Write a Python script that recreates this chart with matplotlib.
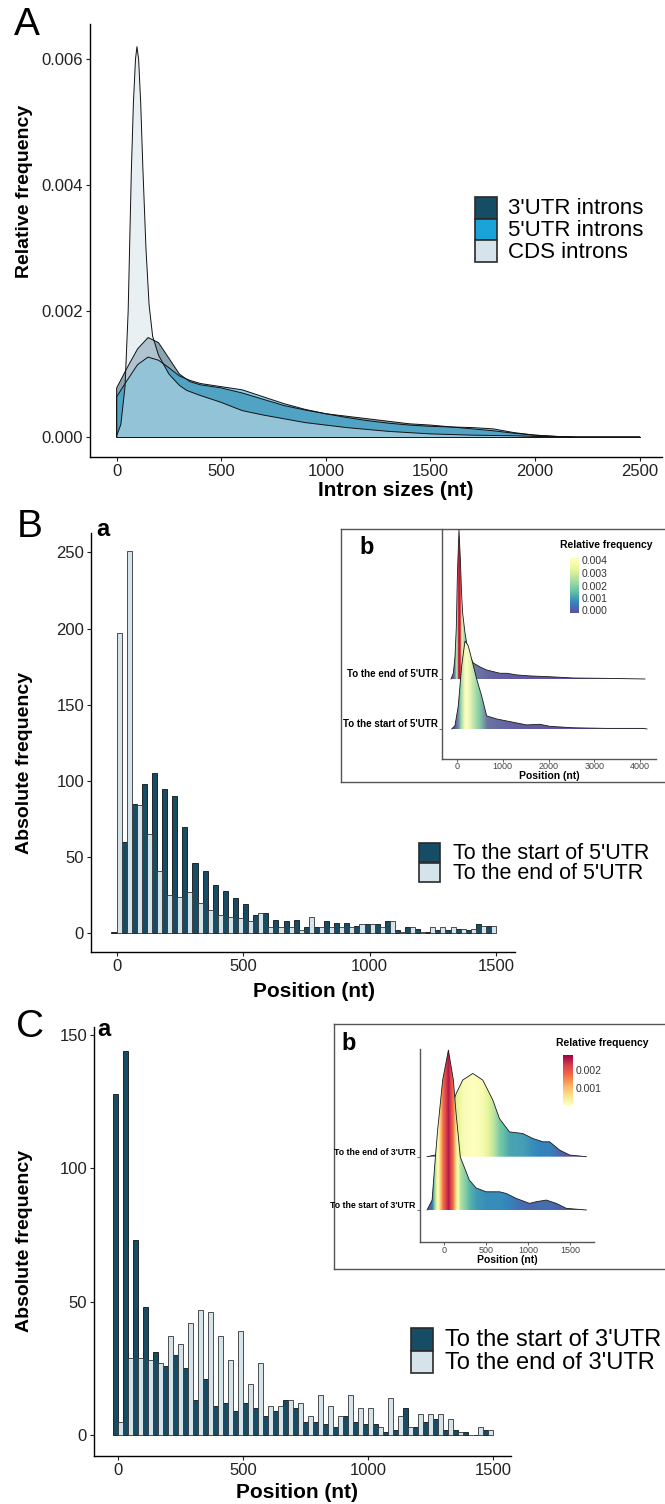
import numpy as np
import matplotlib.pyplot as plt
from matplotlib.patches import Polygon, Rectangle
from matplotlib.colors import Normalize, ListedColormap, LinearSegmentedColormap

W, H = 665, 1504

# ---------------- panel A: intron size densities ----------------
utr3_x = [0, 50, 100, 150, 200, 250, 300, 350, 400, 500, 600, 700, 800, 900, 1000, 1100,
          1200, 1300, 1400, 1500, 1600, 1700, 1800, 1900, 2000, 2100, 2200, 2500]
utr3_y = [0.00078, 0.0011, 0.0014, 0.00158, 0.0015, 0.00125, 0.001, 0.00088, 0.00083, 0.00078,
          0.0007, 0.0006, 0.0005, 0.00043, 0.00037, 0.00033, 0.00029, 0.00025, 0.00021, 0.00019,
          0.00016, 0.00013, 0.0001, 0.00006, 0.00003, 0.00001, 0.0, 0.0]
utr5_x = utr3_x
utr5_y = [0.00064, 0.0009, 0.00115, 0.00127, 0.00122, 0.0011, 0.00097, 0.0009, 0.00085, 0.0008,
          0.00075, 0.00064, 0.00053, 0.00044, 0.00037, 0.00031, 0.00026, 0.00022, 0.00019, 0.00017,
          0.00016, 0.00015, 0.00013, 0.00007, 0.00003, 0.00001, 0.0, 0.0]
cds_x = [0, 20, 40, 55, 70, 80, 90, 97, 105, 115, 125, 140, 155, 172, 200, 250, 300, 335, 400,
         500, 600, 700, 800, 900, 1000, 1100, 1200, 1300, 1400, 1500, 1700, 1900, 2000, 2200, 2500]
cds_y = [0.00002, 0.0002, 0.0008, 0.002, 0.0042, 0.0053, 0.006, 0.0062, 0.006, 0.0053, 0.0043,
         0.003, 0.0021, 0.0016, 0.0013, 0.001, 0.00082, 0.00074, 0.00066, 0.00055, 0.00042,
         0.00035, 0.00029, 0.00023, 0.00019, 0.00015, 0.00012, 0.00009, 0.00007, 0.00005,
         0.00003, 0.00002, 0.00001, 0.0, 0.0]

# ---------------- panel B / C: histograms (bins of 40 nt) ----------------
bin_pos = np.arange(0, 1520, 40)
b_start = [1, 60, 85, 98, 105, 95, 90, 70, 46, 41, 32, 28, 23, 19, 12, 13, 9, 8, 9, 4,
           4, 8, 7, 7, 5, 6, 6, 8, 2, 4, 3, 1, 2, 2, 3, 2, 6, 5]
b_end = [197, 251, 84, 65, 41, 25, 24, 27, 20, 15, 12, 11, 10, 8, 13, 4, 4, 4, 2, 11,
         4, 4, 4, 4, 6, 6, 4, 8, 1, 4, 1, 4, 4, 4, 3, 3, 5, 5]
c_start = [128, 144, 73, 48, 31, 26, 30, 25, 13, 21, 11, 12, 9, 12, 10, 7, 9, 13, 10, 5,
           5, 4, 3, 7, 5, 4, 4, 1, 2, 10, 3, 5, 6, 2, 2, 1, 0, 2]
c_end = [5, 29, 29, 28, 27, 37, 34, 42, 47, 46, 37, 28, 39, 19, 27, 11, 11, 13, 12, 7,
         15, 11, 7, 15, 10, 10, 3, 14, 7, 3, 8, 8, 8, 6, 1, 0, 3, 2]

# ---------------- insets: ridge densities ----------------
b_ridge_start_x = [-116, -44, 28, 102, 175, 247, 320, 430, 539, 648, 867, 1157, 1521, 1812,
                   2030, 2540, 3268, 4068, 4150]
b_ridge_start_y = [0, 1.6e-4, 11.2e-4, 30.8e-4, 43.0e-4, 40.6e-4, 34.2e-4, 24.4e-4, 16.1e-4,
                   6.4e-4, 4.9e-4, 3.6e-4, 2.0e-4, 2.3e-4, 1.3e-4, 0.6e-4, 0.3e-4, 0.3e-4, 0]
b_ridge_end_x = [-131, -80, -44, -15, 10, 44, 75, 100, 124, 175, 247, 357, 502, 648, 794, 939,
                 1085, 1303, 1594, 2030, 2540, 3268, 4105]
b_ridge_end_y = [0, 2.8e-4, 10.7e-4, 25.0e-4, 52.0e-4, 72.8e-4, 58.0e-4, 42.0e-4, 32.2e-4,
                 22.5e-4, 12.7e-4, 7.8e-4, 5.9e-4, 4.4e-4, 3.6e-4, 2.8e-4, 2.8e-4, 2.0e-4,
                 1.5e-4, 1.1e-4, 0.5e-4, 0.3e-4, 0]
c_ridge_start_x = [-206, -146, -107, -80, -20, 48, 107, 139, 190, 298, 378, 497, 656, 736,
                   855, 1014, 1093, 1213, 1332, 1451, 1690]
c_ridge_start_y = [0, 1.8e-4, 9.6e-4, 14.5e-4, 23.6e-4, 29.0e-4, 23.6e-4, 17.6e-4, 9.6e-4,
                   5.4e-4, 4.0e-4, 3.3e-4, 3.3e-4, 3.0e-4, 2.1e-4, 1.2e-4, 1.5e-4, 1.8e-4,
                   1.2e-4, 0.3e-4, 0]
c_ridge_end_x = [-206, -107, -67, -20, 40, 99, 139, 218, 338, 457, 576, 656, 775, 934, 1053,
                 1173, 1253, 1372, 1491, 1690]
c_ridge_end_y = [0, 0.3e-4, 0.6e-4, 1.2e-4, 5.4e-4, 9.6e-4, 11.4e-4, 13.9e-4, 15.1e-4,
                 13.9e-4, 10.3e-4, 6.9e-4, 4.5e-4, 4.2e-4, 3.3e-4, 2.7e-4, 2.7e-4, 1.2e-4,
                 0.3e-4, 0]

DARK = '#164c64'
BRIGHT = '#19a3d8'
LIGHT = '#d5e3eb'

plt.rcParams['font.family'] = ['Liberation Sans', 'DejaVu Sans']
fig = plt.figure(figsize=(W / 100, H / 100), dpi=100)


def add_ax(x0, y0, x1, y1, **kw):
    return fig.add_axes([x0 / W, 1 - y1 / H, (x1 - x0) / W, (y1 - y0) / H], **kw)


def ftext(x, y, s, **kw):
    kw.setdefault('zorder', 20)
    return fig.text(x / W, 1 - y / H, s, **kw)


def style_main(ax, size=12):
    for s in ['top', 'right']:
        ax.spines[s].set_visible(False)
    for s in ['left', 'bottom']:
        ax.spines[s].set_linewidth(1.0)
    ax.tick_params(length=3, width=0.8, labelsize=size, pad=2, colors='#222222')


def key_legend(x, y, labels, colors, row_h, key_w, size, gap=11):
    for i, (lab, c) in enumerate(zip(labels, colors)):
        top = y + i * row_h
        fig.add_artist(Rectangle((x / W, 1 - (top + row_h) / H), key_w / W, row_h / H,
                                 transform=fig.transFigure, facecolor=c,
                                 edgecolor='#2a2a2a', lw=1.2, zorder=20))
        ftext(x + key_w + gap, top + row_h / 2 + 1, lab, fontsize=size, va='center', ha='left')


def ridge(ax, x, d, base, scale, cmap, norm, z):
    x = np.asarray(x, float)
    d = np.asarray(d, float)
    top = base + d * scale
    verts = np.column_stack([np.r_[x, x[::-1]], np.r_[top, np.full(len(x), base)]])
    clip = Polygon(verts, closed=True, transform=ax.transData)
    xs = np.linspace(x[0], x[-1], 800)
    im = ax.imshow(np.interp(xs, x, d)[None, :], cmap=cmap, norm=norm,
                   extent=(x[0], x[-1], base, top.max()), aspect='auto', origin='lower',
                   interpolation='bilinear', zorder=z)
    im.set_clip_path(clip)
    ax.plot(x, top, color='#1a1a1a', lw=0.6, zorder=z + 0.1)


def gradient_bar(cax, cmap, lo, hi, ticks, labels):
    vals = np.linspace(lo, hi, 256)
    cax.imshow(vals[:, None], cmap=cmap, extent=(0, 1, lo, hi), origin='lower', aspect='auto')
    cax.set_xlim(0, 1)
    cax.set_ylim(lo, hi)
    cax.set_xticks([])
    cax.yaxis.tick_right()
    cax.set_yticks(ticks)
    cax.set_yticklabels(labels)
    cax.tick_params(axis='y', length=0, pad=2, labelsize=7.5, colors='#333333')
    for s in cax.spines.values():
        s.set_visible(False)


def inset(box, inner, xlim, ylim, xticks, labels, tsize):
    bx = add_ax(*box, zorder=5)
    bx.set_xticks([])
    bx.set_yticks([])
    for s in bx.spines.values():
        s.set_color('#555555')
        s.set_linewidth(1.0)
    ax = add_ax(*inner, zorder=6)
    ax.set_facecolor('none')
    for s in ['top', 'right']:
        ax.spines[s].set_visible(False)
    for s in ['left', 'bottom']:
        ax.spines[s].set_color('#555555')
        ax.spines[s].set_linewidth(1.0)
    ax.set_xlim(*xlim)
    ax.set_ylim(*ylim)
    ax.set_xticks(xticks)
    ax.set_yticks([0, 1])
    ax.set_yticklabels(labels, fontweight='bold')
    ax.tick_params(axis='x', length=2, width=0.6, labelsize=6.5, pad=0.5, colors='#444444')
    ax.tick_params(axis='y', length=2, width=0.6, labelsize=tsize, pad=1, colors='#555555',
                   labelcolor='black')
    for t in ax.get_yticklabels():
        t.set_va('bottom')
    return ax


# ================= A =================
axA = add_ax(90.3, 24, 661.6, 457)
for xs, ys, col in [(utr3_x, utr3_y, DARK), (utr5_x, utr5_y, BRIGHT), (cds_x, cds_y, LIGHT)]:
    axA.fill(np.r_[xs, xs[-1], xs[0]], np.r_[ys, 0, 0], facecolor=col, alpha=0.5,
             edgecolor='none')
    axA.plot(np.r_[xs[0], xs], np.r_[0, ys], color='#111111', lw=0.7)
axA.axhline(0, xmin=(0 + 126) / 2731, xmax=(2500 + 126) / 2731, color='#111111', lw=0.7)
axA.set_xlim(-126, 2605)
axA.set_ylim(-0.000317, 0.00656)
axA.set_xticks([0, 500, 1000, 1500, 2000, 2500])
axA.set_yticks([0, 0.002, 0.004, 0.006])
axA.set_yticklabels(['0.000', '0.002', '0.004', '0.006'])
style_main(axA, 12)
ftext(27, 25, 'A', fontsize=28, ha='center', va='center')
ftext(25, 191, 'Relative frequency', fontsize=14, fontweight='bold', rotation=90,
      ha='center', va='center')
ftext(396, 490, 'Intron sizes (nt)', fontsize=15, fontweight='bold', ha='center', va='center')
key_legend(475, 197, ["3'UTR introns", "5'UTR introns", 'CDS introns'],
           [DARK, BRIGHT, LIGHT], 21.7, 22, 16)

# ================= B =================
axB = add_ax(91, 533, 515.3, 952.3)
axB.bar(bin_pos - 10, b_start, width=20, color=DARK, edgecolor='#111111', lw=0.6)
axB.bar(bin_pos + 10, b_end, width=20, color=LIGHT, edgecolor='#333333', lw=0.6)
axB.set_xlim(-101, 1576)
axB.set_ylim(-12.5, 262.8)
axB.set_xticks([0, 500, 1000, 1500])
axB.set_yticks([0, 50, 100, 150, 200, 250])
style_main(axB, 12)
ftext(29.5, 527, 'B', fontsize=28, ha='center', va='center')
ftext(103, 530, 'a', fontsize=17, fontweight='bold', ha='center', va='center')
ftext(24.5, 763, 'Absolute frequency', fontsize=14, fontweight='bold', rotation=90,
      ha='center', va='center')
ftext(314, 992, 'Position (nt)', fontsize=15, fontweight='bold', ha='center', va='center')
key_legend(419, 843, ["To the start of 5'UTR", "To the end of 5'UTR"], [DARK, LIGHT],
           19.5, 21, 15.5, gap=13)

# inset B: palette runs blue -> yellow up to ~0.0045, then turns red quickly
spec = plt.get_cmap('Spectral_r')
specB = LinearSegmentedColormap.from_list(
    'specB', [(0.0, spec(0.0)), (0.25, spec(0.25)), (0.5, spec(0.5)),
              (0.62, spec(0.8)), (0.75, spec(0.95)), (1.0, spec(1.0))])
rB = inset((341, 529, 672, 782), (442, 529, 656, 759), (-327, 4345), (-0.6, 4.0),
           [0, 1000, 2000, 3000, 4000], ["To the start of 5'UTR", "To the end of 5'UTR"], 7)
normB = Normalize(0, 0.0086)
ridge(rB, b_ridge_end_x, b_ridge_end_y, 1, 409.3, specB, normB, 2)
ridge(rB, b_ridge_start_x, b_ridge_start_y, 0, 409.3, specB, normB, 3)
rB.set_xlim(-327, 4345)
rB.set_ylim(-0.6, 4.0)
ftext(549, 776, 'Position (nt)', fontsize=7.5, fontweight='bold', ha='center', va='center')
ftext(367, 548, 'b', fontsize=17, fontweight='bold', ha='center', va='center')
ftext(606, 545, 'Relative frequency', fontsize=7.5, fontweight='bold', ha='center',
      va='center')
caxB = add_ax(570, 558, 579, 613, zorder=7)
gradient_bar(caxB, ListedColormap(spec(np.linspace(0, 0.52, 128))), -0.0002, 0.0042,
             [0, 0.001, 0.002, 0.003, 0.004], ['0.000', '0.001', '0.002', '0.003', '0.004'])

# ================= C =================
axC = add_ax(94, 1027, 511, 1455.7)
axC.bar(bin_pos - 10, c_start, width=20, color=DARK, edgecolor='#111111', lw=0.6)
axC.bar(bin_pos + 10, c_end, width=20, color=LIGHT, edgecolor='#333333', lw=0.6)
axC.set_xlim(-94, 1571)
axC.set_ylim(-7.8, 153)
axC.set_xticks([0, 500, 1000, 1500])
axC.set_yticks([0, 50, 100, 150])
style_main(axC, 12)
ftext(30.5, 1027, 'C', fontsize=28, ha='center', va='center')
ftext(104, 1029, 'a', fontsize=17, fontweight='bold', ha='center', va='center')
ftext(24.5, 1241, 'Absolute frequency', fontsize=14, fontweight='bold', rotation=90,
      ha='center', va='center')
ftext(297, 1493, 'Position (nt)', fontsize=15, fontweight='bold', ha='center', va='center')
key_legend(411, 1328, ["To the start of 3'UTR", "To the end of 3'UTR"], [DARK, LIGHT],
           22.5, 22, 17, gap=12)

# inset C
rC = inset((334, 1024, 672, 1269), (420, 1049, 594, 1242.3), (-290, 1781), (-0.606, 3.02),
           [0, 500, 1000, 1500], ["To the start of 3'UTR", "To the end of 3'UTR"], 6.3)
normC = Normalize(0, 0.003)
ridge(rC, c_ridge_end_x, c_ridge_end_y, 1, 1034, spec, normC, 2)
ridge(rC, c_ridge_start_x, c_ridge_start_y, 0, 1034, spec, normC, 3)
rC.set_xlim(-290, 1781)
rC.set_ylim(-0.606, 3.02)
ftext(507, 1260, 'Position (nt)', fontsize=7.5, fontweight='bold', ha='center', va='center')
ftext(349, 1044, 'b', fontsize=17, fontweight='bold', ha='center', va='center')
ftext(602, 1043, 'Relative frequency', fontsize=7.5, fontweight='bold', ha='center',
      va='center')
caxC = add_ax(563, 1055, 573, 1105, zorder=7)
gradient_bar(caxC, ListedColormap(spec(np.linspace(0.5, 1.0, 128))), 0.0, 0.00287,
             [0.001, 0.002], ['0.001', '0.002'])

fig.savefig('out.png', dpi=100, facecolor='white')
